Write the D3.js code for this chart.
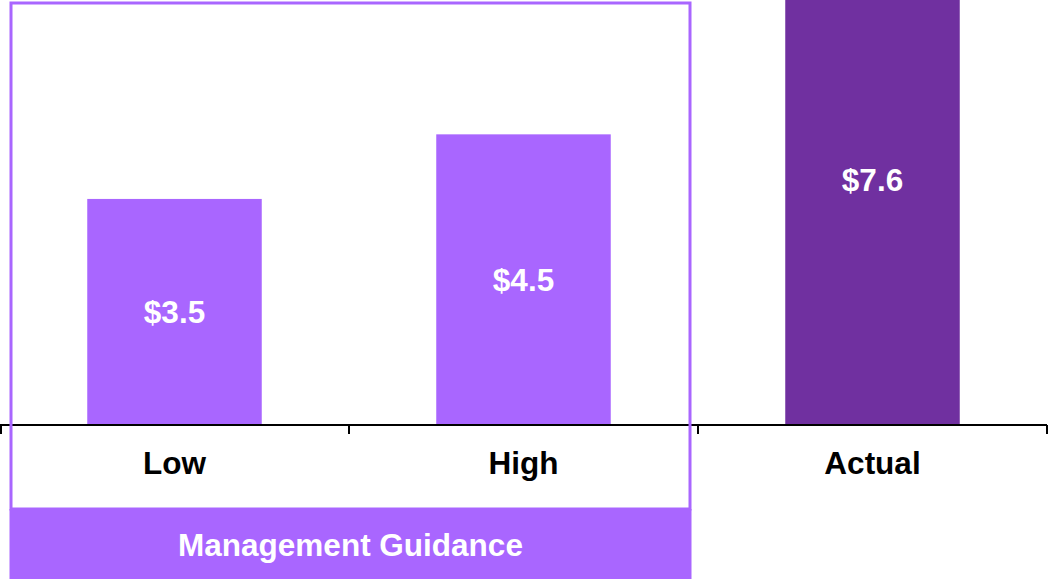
<!DOCTYPE html>
<html>
    <head>
        <meta charset="UTF-8" />
        <title>Guidance vs actual</title>
        <script src="https://d3js.org/d3.v7.min.js"></script>
        <style>
body {
    margin: 0px;
    background: #fff;
}
svg text {
    font-family: "Liberation Sans", Arial, sans-serif;
    font-weight: bold;
}
        </style>
    </head>
    <body>
        <svg id="chart" width="1056" height="580"></svg>
<script>
// data
const categories = ["Low", "High", "Actual"];
const values = [3.5, 4.5, 7.6];
const valueLabels = ["$3.5", "$4.5", "$7.6"];
const groupLabel = "Management Guidance";
const groupMembers = ["Low", "High"];

const width = 1056, height = 580;
const baseY = 425;
const light = "#a966ff";
const dark = "#7030a0";
const fontSize = 31.5;

let svg = d3.select("#chart");

// scales
let x = d3.scaleBand()
    .domain(categories)
    .range([0, 1047])
    .paddingInner(0.5)
    .paddingOuter(0.25);

let y = d3.scaleLinear()
    .domain([0, 6.58])
    .range([baseY, 0]);

// bars
svg.selectAll("rect.bar")
    .data(categories)
    .join("rect")
    .attr("class", "bar")
    .attr("x", d => x(d))
    .attr("width", x.bandwidth())
    .attr("y", (d, i) => y(values[i]))
    .attr("height", (d, i) => baseY - y(values[i]))
    .attr("fill", d => groupMembers.includes(d) ? light : dark);

// value labels in the middle of each bar
svg.selectAll("text.val")
    .data(categories)
    .join("text")
    .attr("class", "val")
    .attr("x", d => x(d) + x.bandwidth() / 2)
    .attr("y", (d, i) => (y(values[i]) + baseY) / 2 + 11)
    .attr("text-anchor", "middle")
    .attr("font-size", fontSize)
    .attr("fill", "#fff")
    .text((d, i) => valueLabels[i]);

// axis: ticks on the band edges
let edges = [0].concat(categories.map(d => x(d) - x.step() * 0.25 + x.step()));
let axis = svg.append("g");
axis.append("line")
    .attr("x1", 0).attr("x2", 1047)
    .attr("y1", baseY).attr("y2", baseY)
    .attr("stroke", "#000").attr("stroke-width", 2);
axis.selectAll("line.tick")
    .data(edges)
    .join("line")
    .attr("class", "tick")
    .attr("x1", d => Math.max(d, 1)).attr("x2", d => Math.max(d, 1))
    .attr("y1", baseY).attr("y2", baseY + 9)
    .attr("stroke", "#000").attr("stroke-width", 2);

// category labels
svg.selectAll("text.cat")
    .data(categories)
    .join("text")
    .attr("class", "cat")
    .attr("x", d => x(d) + x.bandwidth() / 2)
    .attr("y", 474)
    .attr("text-anchor", "middle")
    .attr("font-size", fontSize)
    .attr("fill", "#000")
    .text(d => d);

// guidance box around Low + High
let boxLeft = 11, boxRight = 690;
svg.append("rect")
    .attr("x", boxLeft).attr("y", 3)
    .attr("width", boxRight - boxLeft).attr("height", 509 - 3)
    .attr("fill", "none")
    .attr("stroke", light).attr("stroke-width", 3);

svg.append("rect")
    .attr("x", boxLeft - 1.5).attr("y", 509)
    .attr("width", boxRight - boxLeft + 3).attr("height", 70)
    .attr("fill", light);

svg.append("text")
    .attr("x", (boxLeft + boxRight) / 2)
    .attr("y", 556)
    .attr("text-anchor", "middle")
    .attr("font-size", fontSize)
    .attr("fill", "#fff")
    .text(groupLabel);
</script>
    </body>
</html>
